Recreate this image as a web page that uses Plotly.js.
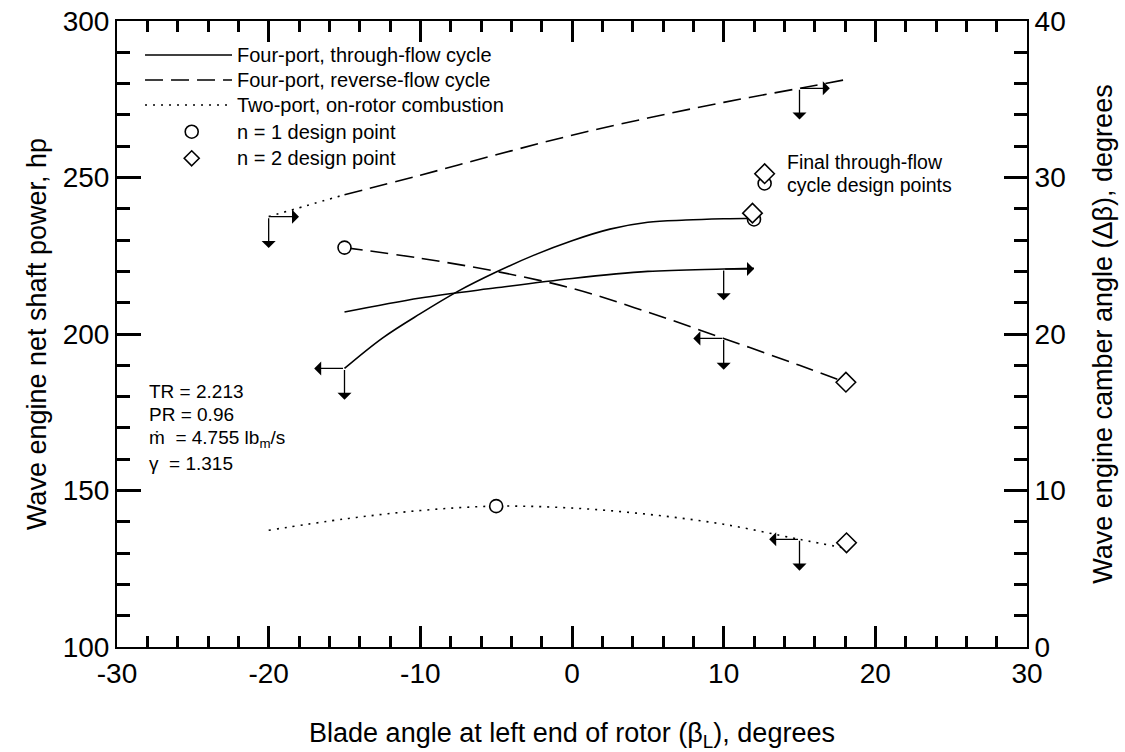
<!DOCTYPE html>
<html><head><meta charset="utf-8">
<script src="https://cdn.plot.ly/plotly-3.0.1.min.js"></script>
<style>html,body{margin:0;padding:0;background:#fff}#chart{width:1125px;height:752px}</style>
</head><body><div id="chart"></div>
<script>
// ---------------- data ----------------
const xTickVals = [-30, -20, -10, 0, 10, 20, 30];
const xTickText = ['-30', '-20', '-10', '0', '10', '20', '30'];
const yTickVals = [100, 150, 200, 250, 300];
const y2TickVals = [0, 10, 20, 30, 40];

// Four-port, through-flow cycle
const tfPowerX = [-15, -12.5, -10, -7.5, -5, -2.5, 0, 2.5, 5, 7.5, 10, 12];
const tfPowerY = [189, 198.7, 206.5, 213.7, 219.8, 225.2, 229.8, 233.5, 235.7, 236.4, 236.8, 237.0];
const tfCamberX = [-15, -10, -5, 0, 5, 10, 12];
const tfCamberY = [21.4, 22.3, 22.95, 23.55, 24.0, 24.15, 24.2];

// Four-port, reverse-flow cycle
const rfPowerX = [-15, -10, -5, 0, 5, 10, 15, 18];
const rfPowerY = [227.6, 224.2, 220.0, 214.6, 207.0, 198.6, 190.0, 184.6];
const rfCamberX = [-15, -10, -5, 0, 5, 10, 15, 18.3];
const rfCamberY = [28.9, 30.15, 31.45, 32.7, 33.8, 34.8, 35.7, 36.3];

// Two-port, on-rotor combustion
const tpPowerX = [-20, -15, -10, -5, 0, 5, 10, 15, 18];
const tpPowerY = [137.3, 140.9, 143.6, 145.0, 144.4, 142.4, 139.2, 134.4, 131.6];
const tpCamberX = [-20, -17.5, -15];
const tpCamberY = [27.5, 28.2, 28.9];

// design points
const n1X = [-15, -5, 12.0];
const n1Y = [227.6, 145.0, 236.6];
const n2X = [18.06, 18.1, 11.9];
const n2Y = [184.6, 133.3, 238.6];
const finalN1X = [12.7];
const finalN1Y = [248.1];
const finalN2X = [12.7];
const finalN2Y = [251.2];

const legendLabels = ['Four-port, through-flow cycle', 'Four-port, reverse-flow cycle',
  'Two-port, on-rotor combustion', 'n = 1 design point', 'n = 2 design point'];
const conditionLines = ['TR = 2.213', 'PR = 0.96', 'ṁ\u00a0\u00a0= 4.755 lb<sub>m</sub>/s', 'γ\u00a0\u00a0= 1.315'];
const finalLabel = ['Final through-flow', 'cycle design points'];

// ---------------- styling ----------------
const FONT = 'Liberation Sans, Arial, Helvetica, sans-serif';
const BLACK = '#000000';
const SOLID = 'solid', DASH = '18px,8px', DOT = '2px,6px';
const LW = 1.6;

function line(x, y, dash, yaxis, name) {
  return {x: x, y: y, type: 'scatter', mode: 'lines', name: name, yaxis: yaxis,
    line: {color: BLACK, width: LW, dash: dash, shape: 'spline', smoothing: 1}, showlegend: false, hoverinfo: 'skip'};
}
function marks(x, y, symbol, size, name) {
  return {x: x, y: y, type: 'scatter', mode: 'markers', name: name, showlegend: false,
    marker: {symbol: symbol, size: size, color: 'white', line: {color: BLACK, width: 1.6}}};
}

const traces = [
  line(tfPowerX, tfPowerY, SOLID, 'y', 'Through-flow power'),
  line(tfCamberX, tfCamberY, SOLID, 'y2', 'Through-flow camber'),
  line(rfPowerX, rfPowerY, DASH, 'y', 'Reverse-flow power'),
  line(rfCamberX, rfCamberY, DASH, 'y2', 'Reverse-flow camber'),
  line(tpPowerX, tpPowerY, DOT, 'y', 'Two-port power'),
  line(tpCamberX, tpCamberY, DOT, 'y2', 'Two-port camber'),
  marks(n1X, n1Y, 'circle', 13, 'n = 1 design point'),
  marks(finalN1X, finalN1Y, 'circle', 13, 'Final n = 1'),
  marks(n2X, n2Y, 'diamond', 15, 'n = 2 design point'),
  marks(finalN2X, finalN2Y, 'diamond', 15, 'Final n = 2')
];

// axis-pointer arrows: corner is a series point; one horizontal arrow and one downward arrow
const HX = 2.0;
const DOWN = {y: 10, y2: 2};
const arrowSpecs = [
  {xs: tpCamberX, ys: tpCamberY, i: 0, ax: 'y2', dir: 1},
  {xs: rfCamberX, ys: rfCamberY, i: 6, ax: 'y2', dir: 1},
  {xs: tfPowerX, ys: tfPowerY, i: 0, ax: 'y', dir: -1},
  {xs: tfCamberX, ys: tfCamberY, i: 5, ax: 'y2', dir: 1},
  {xs: rfPowerX, ys: rfPowerY, i: 5, ax: 'y', dir: -1},
  {xs: tpPowerX, ys: tpPowerY, i: 7, ax: 'y', dir: -1}
];
const annotations = [];
arrowSpecs.forEach(s => {
  const cx = s.xs[s.i], cy = s.ys[s.i];
  const common = {xref: 'x', yref: s.ax, axref: 'x', ayref: s.ax, text: '', showarrow: true,
    arrowhead: 1, arrowsize: 1.8, arrowwidth: 1.3, arrowcolor: BLACK, standoff: 0, startstandoff: 0};
  annotations.push(Object.assign({x: cx + s.dir * HX, y: cy, ax: cx, ay: cy}, common));
  annotations.push(Object.assign({x: cx, y: cy - DOWN[s.ax], ax: cx, ay: cy}, common));
});

// operating-condition text block
const condY = [0.408, 0.371, 0.332, 0.293];
conditionLines.forEach((t, k) => annotations.push({
  xref: 'paper', yref: 'paper', x: 0.033, y: condY[k], xanchor: 'left', yanchor: 'middle',
  text: t, showarrow: false, font: {family: FONT, size: 19, color: BLACK}}));

// "Final through-flow cycle design points"
const finalTextY = [255.0, 247.5];
finalLabel.forEach((t, k) => annotations.push({
  xref: 'x', yref: 'y', x: 14.05, y: finalTextY[k], xanchor: 'left', yanchor: 'middle',
  text: t, showarrow: false, font: {family: FONT, size: 19.5, color: BLACK}}));

// legend drawn inside the plot (paper coordinates)
const legRowY = [0.9457, 0.9058, 0.8658, 0.8232, 0.7807];
const legDash = [SOLID, DASH, DOT];
const shapes = [];
for (let k = 0; k < 3; k++) {
  shapes.push({type: 'line', xref: 'paper', yref: 'paper', x0: 0.0308, x1: 0.1264,
    y0: legRowY[k], y1: legRowY[k], line: {color: BLACK, width: LW, dash: legDash[k]}});
}
shapes.push({type: 'circle', xref: 'paper', yref: 'paper', xsizemode: 'pixel', ysizemode: 'pixel',
  xanchor: 0.0821, yanchor: legRowY[3], x0: -6.5, x1: 6.5, y0: -6.5, y1: 6.5,
  line: {color: BLACK, width: 1.6}, fillcolor: 'white'});
shapes.push({type: 'path', xref: 'paper', yref: 'paper', xsizemode: 'pixel', ysizemode: 'pixel',
  xanchor: 0.0821, yanchor: legRowY[4], path: 'M0,-7.5L7.5,0L0,7.5L-7.5,0Z',
  line: {color: BLACK, width: 1.6}, fillcolor: 'white'});
legendLabels.forEach((t, k) => annotations.push({
  xref: 'paper', yref: 'paper', x: 0.1297, y: legRowY[k], xanchor: 'left', yanchor: 'middle',
  text: t, showarrow: false, font: {family: FONT, size: 20, color: BLACK}}));

const TW = 3;
const axisCommon = {
  showline: true, linecolor: BLACK, linewidth: 2, showgrid: false, zeroline: false,
  ticks: 'inside', tickcolor: BLACK, tickwidth: TW,
  tickfont: {family: FONT, size: 28, color: BLACK}
};

const layout = {
  width: 1125, height: 752,
  margin: {l: 117, r: 98, t: 21, b: 105},
  paper_bgcolor: 'white', plot_bgcolor: 'white',
  font: {family: FONT, color: BLACK},
  showlegend: false,
  xaxis: Object.assign({}, axisCommon, {
    range: [-30, 30], tickmode: 'array', tickvals: xTickVals, ticktext: xTickText,
    ticklen: 21, mirror: 'ticks',
    minor: {ticks: 'inside', tickmode: 'linear', tick0: -30, dtick: 2, ticklen: 11, tickwidth: TW, tickcolor: BLACK},
    title: {text: 'Blade angle at left end of rotor (β<sub>L</sub>), degrees', font: {family: FONT, size: 27, color: BLACK}, standoff: 38}
  }),
  yaxis: Object.assign({}, axisCommon, {
    range: [100, 300], tickmode: 'array', tickvals: yTickVals, ticklen: 24,
    minor: {ticks: 'inside', tickmode: 'linear', tick0: 100, dtick: 10, ticklen: 13, tickwidth: TW, tickcolor: BLACK},
    title: {text: 'Wave engine net shaft power, hp', font: {family: FONT, size: 27, color: BLACK}, standoff: 8}
  }),
  yaxis2: Object.assign({}, axisCommon, {
    range: [0, 40], overlaying: 'y', side: 'right', tickmode: 'array', tickvals: y2TickVals, ticklen: 23,
    minor: {ticks: 'inside', tickmode: 'linear', tick0: 0, dtick: 2, ticklen: 13, tickwidth: TW, tickcolor: BLACK},
    title: {text: 'Wave engine camber angle (Δβ), degrees', font: {family: FONT, size: 27, color: BLACK}, standoff: 28}
  }),
  annotations: annotations,
  shapes: shapes
};

Plotly.newPlot('chart', traces, layout, {displayModeBar: false, staticPlot: true});
</script>
</body></html>
